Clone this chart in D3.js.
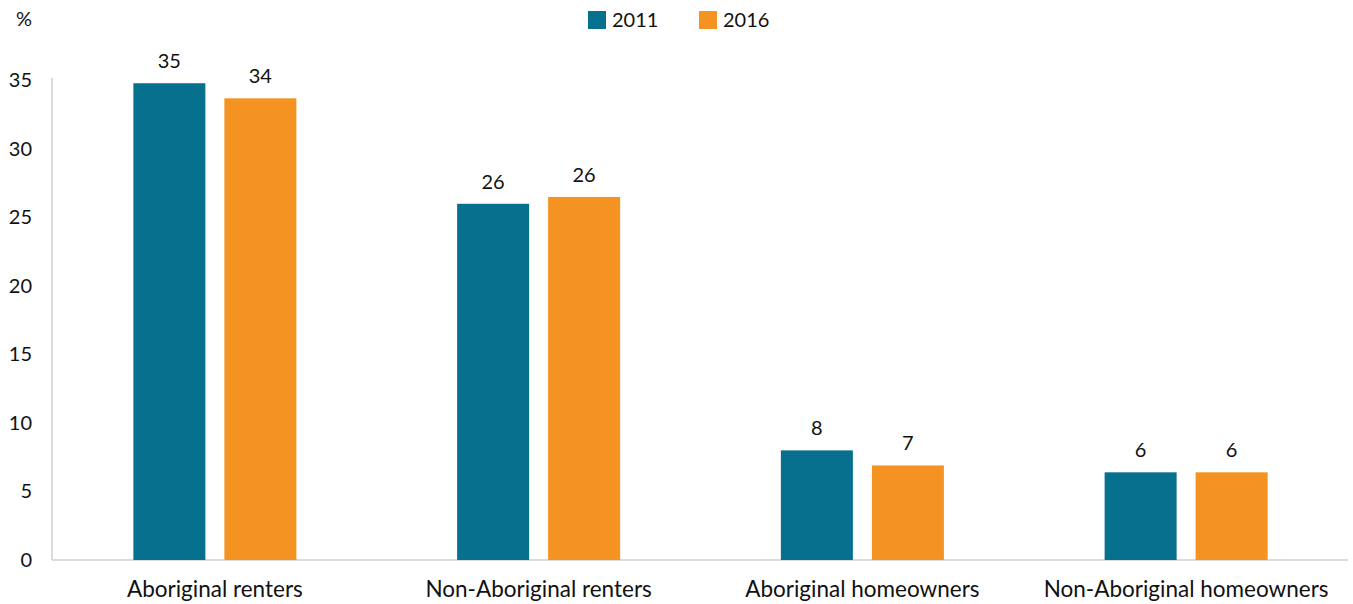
<!DOCTYPE html>
<html><head><meta charset="utf-8">
<script src="https://cdn.jsdelivr.net/npm/d3@7"></script>
<style>body{margin:0;background:#fff}svg{display:block;font-family:Lato,"Open Sans",sans-serif}</style>
</head><body><svg id="c" width="1353" height="604"></svg>
<script>
const categories = ["Aboriginal renters","Non-Aboriginal renters","Aboriginal homeowners","Non-Aboriginal homeowners"];
const years = ["2011","2016"];
const values2011 = [34.8, 26.0, 8.0, 6.4];
const values2016 = [33.7, 26.5, 6.9, 6.4];
const labels2011 = ["35","26","8","6"];
const labels2016 = ["34","26","7","6"];
const yTicks = [0,5,10,15,20,25,30,35];
const colors = ["#08708f","#f59322"];

(function(){
const svg = d3.select("#c");
const pLeft = 53, pRight = 1348, pBottom = 560, pTop = 80.5;
const x0 = d3.scaleBand().domain(categories).range([pLeft, pRight]).paddingInner(0.4965).paddingOuter(0.4965/2);
const x1 = d3.scaleBand().domain(years).range([0, x0.bandwidth()]).paddingInner(19/91);
const y = d3.scaleLinear().domain([0,35]).range([pBottom, pTop]);

svg.append("line").attr("x1", pLeft-1).attr("x2", pLeft-1).attr("y1", y(35.2)).attr("y2", pBottom).attr("stroke","#cfcfcf").attr("stroke-width",1.5);
svg.append("line").attr("x1", pLeft-1).attr("x2", pRight).attr("y1", pBottom).attr("y2", pBottom).attr("stroke","#cfcfcf").attr("stroke-width",1.5);

const yAxis = d3.axisLeft(y).tickValues(yTicks).tickSize(0).tickPadding(0);
const ga = svg.append("g").attr("transform", `translate(32,0)`).call(yAxis);
ga.select(".domain").remove();
ga.selectAll("text").attr("font-size", 20).attr("fill","#111").attr("font-family","Lato");

svg.append("text").attr("x", 24).attr("y", 26).attr("text-anchor","middle").attr("font-size",20).attr("fill","#111").text("%");

const data = categories.map((c,i)=>({cat:c, vals:[{year:"2011", v:values2011[i], l:labels2011[i]},{year:"2016", v:values2016[i], l:labels2016[i]}]}));
const g = svg.selectAll("g.grp").data(data).join("g").attr("class","grp").attr("transform", d=>`translate(${x0(d.cat)},0)`);
g.selectAll("rect").data(d=>d.vals).join("rect")
  .attr("x", d=>x1(d.year)).attr("width", x1.bandwidth())
  .attr("y", d=>y(d.v)).attr("height", d=>pBottom-y(d.v))
  .attr("fill", (d,i)=>colors[i]);
g.selectAll("text.val").data(d=>d.vals).join("text").attr("class","val")
  .attr("x", d=>x1(d.year)+x1.bandwidth()/2).attr("y", d=>y(d.v)-15)
  .attr("text-anchor","middle").attr("font-size",20).attr("fill","#111").text(d=>d.l);

svg.selectAll("text.cat").data(categories).join("text").attr("class","cat")
  .attr("x", d=>x0(d)+x0.bandwidth()/2).attr("y", 597).attr("text-anchor","middle")
  .attr("font-size",22.5).attr("fill","#111").text(d=>d);

const lg = svg.append("g");
years.forEach((yr,i)=>{
  const lx = 588 + i*111;
  lg.append("rect").attr("x", lx).attr("y", 11).attr("width",18).attr("height",18).attr("fill",colors[i]);
  lg.append("text").attr("x", lx+24).attr("y", 27).attr("font-size",20).attr("fill","#111").text(yr);
});
})();
</script></body></html>
